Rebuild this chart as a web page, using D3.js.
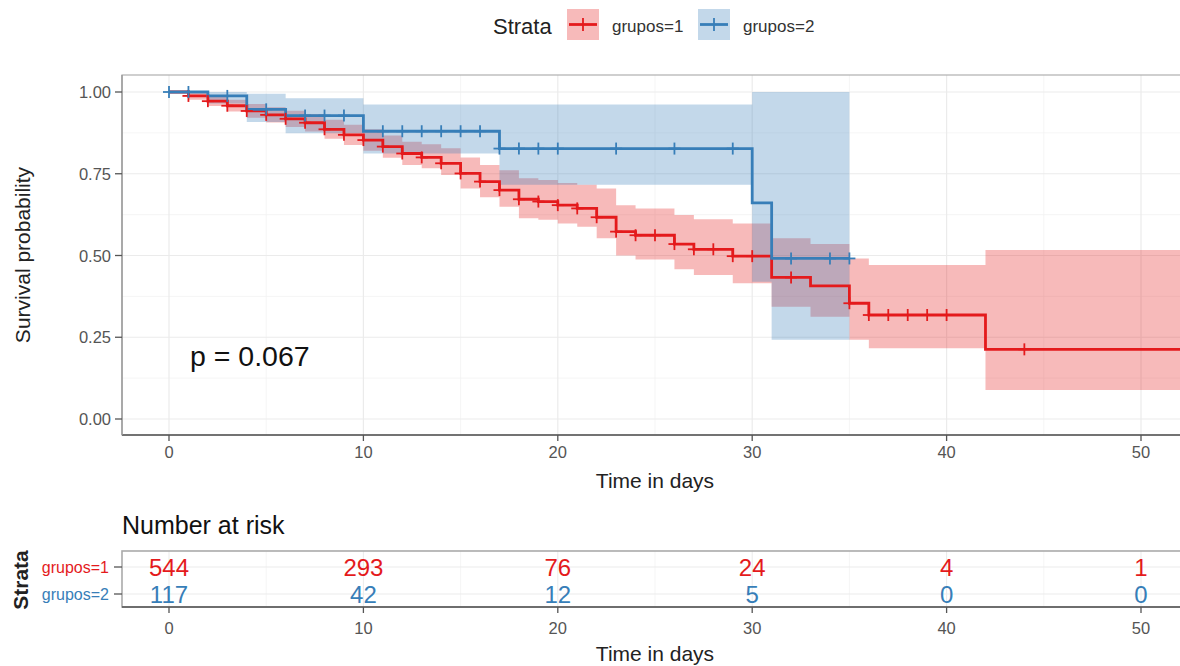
<!DOCTYPE html>
<html><head><meta charset="utf-8">
<script src="https://cdn.jsdelivr.net/npm/d3@7"></script>
<style>body{margin:0;background:#fff} text{font-family:"Liberation Sans",Arial,sans-serif}</style>
</head><body><svg id="c" width="1180" height="666"></svg>
<script>
// ---------- data ----------
const groups = ["grupos=1", "grupos=2"];
const colors = ["#E41A1C", "#377EB8"];

const redTime  = [0,1,2,3,4,5,6,7,8,9,10,11,12,13,14,15,16,17,18,19,20,21,22,23,24,26,27,29,31,33,35,36,42];
const redSurv  = [1,0.988,0.972,0.958,0.942,0.930,0.918,0.906,0.886,0.869,0.853,0.833,0.812,0.800,0.782,0.751,0.726,0.700,0.672,0.665,0.654,0.644,0.617,0.573,0.562,0.535,0.519,0.498,0.433,0.407,0.354,0.318,0.213];
const redLower = [1,0.976,0.957,0.940,0.921,0.907,0.893,0.879,0.857,0.838,0.820,0.799,0.777,0.767,0.746,0.705,0.678,0.649,0.614,0.609,0.598,0.588,0.553,0.500,0.488,0.458,0.440,0.415,0.343,0.313,0.242,0.216,0.089];
const redUpper = [1,0.998,0.987,0.976,0.963,0.953,0.943,0.933,0.915,0.900,0.886,0.867,0.848,0.840,0.828,0.800,0.777,0.761,0.736,0.731,0.722,0.716,0.705,0.654,0.644,0.624,0.611,0.598,0.553,0.535,0.491,0.471,0.517];
const redEnd = 54;
const redCensor = [1,2,3,4,5,6,7,8,9,10,11,12,13,14,15,16,17,18,19,20,21,22,23,24,25,26,27,28,29,30,32,35,36,37,38,39,40,44];

const blueTime  = [0,2,4,6,10,17,30,31];
const blueSurv  = [1,0.988,0.947,0.928,0.880,0.827,0.661,0.491];
const blueLower = [1,0.965,0.908,0.874,0.812,0.716,0.420,0.242];
const blueUpper = [1,1,0.995,0.981,0.962,0.962,1,1];
const blueEnd = 35;
const blueCensor = [0,1,3,5,7,8,9,11,12,13,14,15,16,17,18,19,20,23,26,29,32,34,35];

const xTicks = [0,10,20,30,40,50];
const xMinor = [5,15,25,35,45];
const yTicks = [0,0.25,0.5,0.75,1];
const yTickLabels = ["0.00","0.25","0.50","0.75","1.00"];
const yMinor = [0.125,0.375,0.625,0.875];
const riskTimes = [0,10,20,30,40,50];
const riskRed  = [544,293,76,24,4,1];
const riskBlue = [117,42,12,5,0,0];
const pText = "p = 0.067";

// ---------- layout ----------
const svg = d3.select("#c");
svg.append("rect").attr("width",1180).attr("height",666).attr("fill","#fff");
const P = {l:122, r:1188, t:75, b:435};
const R = {l:122, r:1188, t:551, b:607};
const x = d3.scaleLinear().domain([0,50]).range([169,1141]);
const y = d3.scaleLinear().domain([0,1]).range([419,92]);
const yr = d3.scalePoint().domain(groups).range([567,594]);

const defs = svg.append("defs");
defs.append("clipPath").attr("id","clipP").append("rect")
  .attr("x",P.l).attr("y",P.t).attr("width",P.r-P.l).attr("height",P.b-P.t);

// ---------- main panel grid ----------
const g = svg.append("g");
g.selectAll(".gxm").data(xMinor).join("line").attr("x1",d=>x(d)).attr("x2",d=>x(d))
  .attr("y1",P.t).attr("y2",P.b).attr("stroke","#f3f3f3").attr("stroke-width",0.8);
g.selectAll(".gym").data(yMinor).join("line").attr("y1",d=>y(d)).attr("y2",d=>y(d))
  .attr("x1",P.l).attr("x2",P.r).attr("stroke","#f3f3f3").attr("stroke-width",0.8);
g.selectAll(".gx").data(xTicks).join("line").attr("x1",d=>x(d)).attr("x2",d=>x(d))
  .attr("y1",P.t).attr("y2",P.b).attr("stroke","#ebebeb").attr("stroke-width",1.2);
g.selectAll(".gy").data(yTicks).join("line").attr("y1",d=>y(d)).attr("y2",d=>y(d))
  .attr("x1",P.l).attr("x2",P.r).attr("stroke","#ebebeb").attr("stroke-width",1.2);

// ---------- curves ----------
function build(time, surv, lo, up, end){
  const pts = time.map((t,i)=>({t, s:surv[i], lo:lo[i], up:up[i]}));
  const last = pts[pts.length-1];
  pts.push({t:end, s:last.s, lo:last.lo, up:last.up});
  return pts;
}
const series = [
  {pts: build(redTime, redSurv, redLower, redUpper, redEnd), col: colors[0], cens: redCensor, time: redTime, surv: redSurv},
  {pts: build(blueTime, blueSurv, blueLower, blueUpper, blueEnd), col: colors[1], cens: blueCensor, time: blueTime, surv: blueSurv}
];
const plot = svg.append("g").attr("clip-path","url(#clipP)");
const area = d3.area().curve(d3.curveStepAfter).x(d=>x(d.t)).y0(d=>y(d.lo)).y1(d=>y(d.up));
const line = d3.line().curve(d3.curveStepAfter).x(d=>x(d.t)).y(d=>y(d.s));
series.forEach(s=>{
  plot.append("path").datum(s.pts).attr("d",area).attr("fill",s.col).attr("fill-opacity",0.3);
});
series.forEach(s=>{
  plot.append("path").datum(s.pts).attr("d",line).attr("fill","none")
    .attr("stroke",s.col).attr("stroke-width",2.8);
});
const bis = d3.bisector(d=>d).right;
series.forEach(s=>{
  const sv = t => s.surv[Math.max(0, bis(s.time, t)-1)];
  const cg = plot.append("g");
  s.cens.forEach(t=>{
    const cx = x(t), cy = y(sv(t));
    cg.append("line").attr("x1",cx).attr("x2",cx).attr("y1",cy-6).attr("y2",cy+6)
      .attr("stroke",s.col).attr("stroke-width",1.8);
    cg.append("line").attr("x1",cx-6).attr("x2",cx+6).attr("y1",cy).attr("y2",cy)
      .attr("stroke",s.col).attr("stroke-width",1.8);
  });
});

// ---------- main panel frame & axes ----------
svg.append("rect").attr("x",P.l).attr("y",P.t).attr("width",P.r-P.l).attr("height",P.b-P.t)
  .attr("fill","none").attr("stroke","#b0b0b0").attr("stroke-width",1.2);
svg.append("line").attr("x1",P.l).attr("x2",P.r).attr("y1",P.b).attr("y2",P.b)
  .attr("stroke","#555").attr("stroke-width",1.6);
svg.append("line").attr("x1",P.l).attr("x2",P.l).attr("y1",P.t).attr("y2",P.b)
  .attr("stroke","#999").attr("stroke-width",1.4);

const ax = svg.append("g");
ax.selectAll(".yt").data(yTicks).join("line").attr("x1",115).attr("x2",P.l)
  .attr("y1",d=>y(d)).attr("y2",d=>y(d)).attr("stroke","#555").attr("stroke-width",1.3);
ax.selectAll(".ytl").data(yTicks).join("text").attr("x",111).attr("y",d=>y(d))
  .attr("text-anchor","end").attr("dominant-baseline","central")
  .attr("font-size",16.5).attr("fill","#555").text((d,i)=>yTickLabels[i]);
ax.selectAll(".xt").data(xTicks).join("line").attr("x1",d=>x(d)).attr("x2",d=>x(d))
  .attr("y1",P.b).attr("y2",P.b+6).attr("stroke","#555").attr("stroke-width",1.3);
ax.selectAll(".xtl").data(xTicks).join("text").attr("x",d=>x(d)).attr("y",452)
  .attr("text-anchor","middle").attr("dominant-baseline","central")
  .attr("font-size",16.5).attr("fill","#555").text(d=>d);
svg.append("text").attr("x",655).attr("y",480).attr("text-anchor","middle")
  .attr("dominant-baseline","central").attr("font-size",21).attr("fill","#222").text("Time in days");
svg.append("text").attr("transform","translate(22,255) rotate(-90)").attr("text-anchor","middle")
  .attr("dominant-baseline","central").attr("font-size",21).attr("fill","#222").text("Survival probability");
svg.append("text").attr("x",190).attr("y",356).attr("dominant-baseline","central")
  .attr("font-size",28.5).attr("fill","#111").text(pText);

// ---------- legend ----------
const lg = svg.append("g");
lg.append("text").attr("x",493).attr("y",26).attr("dominant-baseline","central")
  .attr("font-size",22).attr("fill","#222").text("Strata");
const keyX = [567, 698], labX = [612, 743];
groups.forEach((gname,i)=>{
  lg.append("rect").attr("x",keyX[i]).attr("y",9).attr("width",32).attr("height",31)
    .attr("fill",colors[i]).attr("fill-opacity",0.3);
  lg.append("line").attr("x1",keyX[i]+2).attr("x2",keyX[i]+30).attr("y1",24.5).attr("y2",24.5)
    .attr("stroke",colors[i]).attr("stroke-width",2.8);
  lg.append("line").attr("x1",keyX[i]+16).attr("x2",keyX[i]+16).attr("y1",18).attr("y2",31)
    .attr("stroke",colors[i]).attr("stroke-width",1.8);
  lg.append("text").attr("x",labX[i]).attr("y",26).attr("dominant-baseline","central")
    .attr("font-size",17).attr("fill","#333").text(gname);
});

// ---------- risk table ----------
svg.append("text").attr("x",122).attr("y",525).attr("dominant-baseline","central")
  .attr("font-size",25).attr("fill","#111").text("Number at risk");
const rt = svg.append("g");
rt.selectAll(".rgx").data(xMinor).join("line").attr("x1",d=>x(d)).attr("x2",d=>x(d))
  .attr("y1",R.t).attr("y2",R.b).attr("stroke","#f3f3f3").attr("stroke-width",0.8);
rt.selectAll(".rgx2").data(xTicks).join("line").attr("x1",d=>x(d)).attr("x2",d=>x(d))
  .attr("y1",R.t).attr("y2",R.b).attr("stroke","#ebebeb").attr("stroke-width",1);
rt.selectAll(".rgy").data(groups).join("line").attr("x1",R.l).attr("x2",R.r)
  .attr("y1",d=>yr(d)).attr("y2",d=>yr(d)).attr("stroke","#ebebeb").attr("stroke-width",1);
rt.append("rect").attr("x",R.l).attr("y",R.t).attr("width",R.r-R.l).attr("height",R.b-R.t)
  .attr("fill","none").attr("stroke","#aaa").attr("stroke-width",1.6);
rt.append("line").attr("x1",R.l).attr("x2",R.r).attr("y1",R.b).attr("y2",R.b)
  .attr("stroke","#555").attr("stroke-width",1.6);
const riskVals = [riskRed, riskBlue];
groups.forEach((gname,i)=>{
  rt.selectAll(".rv"+i).data(riskTimes).join("text").attr("x",d=>x(d)).attr("y",yr(gname))
    .attr("text-anchor","middle").attr("dominant-baseline","central")
    .attr("font-size",24).attr("fill",colors[i]).text((d,j)=>riskVals[i][j]);
  rt.append("line").attr("x1",114).attr("x2",R.l).attr("y1",yr(gname)).attr("y2",yr(gname))
    .attr("stroke","#555").attr("stroke-width",1.3);
  rt.append("text").attr("x",109).attr("y",yr(gname)).attr("text-anchor","end")
    .attr("dominant-baseline","central").attr("font-size",16).attr("fill",colors[i]).text(gname);
});
rt.selectAll(".rxt").data(xTicks).join("line").attr("x1",d=>x(d)).attr("x2",d=>x(d))
  .attr("y1",R.b).attr("y2",R.b+6).attr("stroke","#555").attr("stroke-width",1.3);
rt.selectAll(".rxtl").data(xTicks).join("text").attr("x",d=>x(d)).attr("y",628)
  .attr("text-anchor","middle").attr("dominant-baseline","central")
  .attr("font-size",16.5).attr("fill","#555").text(d=>d);
svg.append("text").attr("x",655).attr("y",653).attr("text-anchor","middle")
  .attr("dominant-baseline","central").attr("font-size",21).attr("fill","#222").text("Time in days");
svg.append("text").attr("transform","translate(20,580) rotate(-90)").attr("text-anchor","middle")
  .attr("dominant-baseline","central").attr("font-size",21).attr("font-weight","bold")
  .attr("fill","#222").text("Strata");
</script></body></html>
